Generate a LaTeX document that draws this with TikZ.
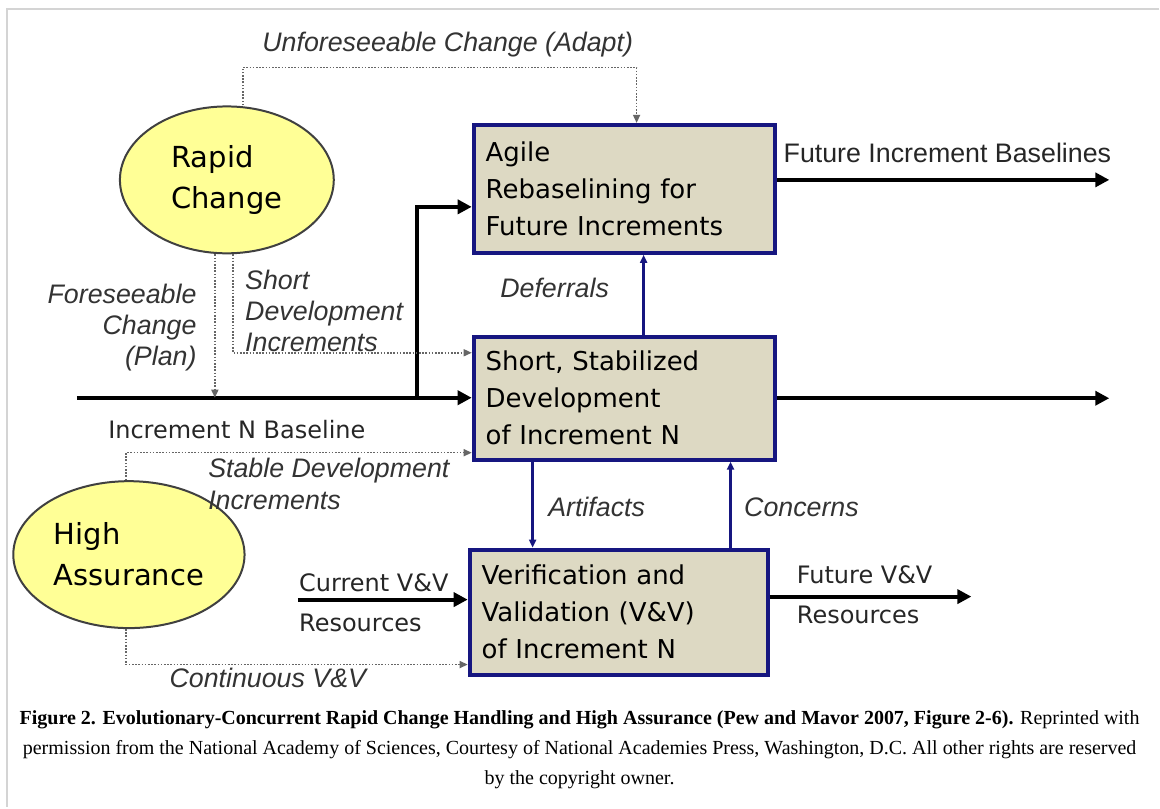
\documentclass[tikz,border=0pt]{standalone}
\usepackage{fontspec}
\usepackage{xcolor}
\usepackage{tikz}
\usetikzlibrary{shapes.geometric, arrows.meta, positioning}
\setmainfont{Liberation Sans}
\newfontfamily\boxfont{DejaVu Sans}
\newfontfamily\capfont{Liberation Serif}
\definecolor{boxfill}{RGB}{221,217,195}
\definecolor{boxline}{RGB}{22,22,128}
\definecolor{ovalfill}{RGB}{255,255,150}
\definecolor{framegray}{RGB}{212,212,212}

\begin{document}
\begin{tikzpicture}[
    x=0.5pt, y=-0.5pt,
    box/.style={rectangle, draw=boxline, line width=2pt, fill=boxfill, minimum width=150.5pt, minimum height=64pt, inner xsep=6pt, text width=138.5pt, align=left, font=\boxfont\fontsize{13}{18.5}\selectfont},
    oval/.style={ellipse, draw=black!75, line width=1pt, fill=ovalfill, minimum width=107pt, minimum height=73.5pt, align=left, font=\boxfont\fontsize{14.5}{20.5}\selectfont},
    arrow/.style={-{Triangle[length=7pt,width=7pt]}, line width=2pt},
    dotarrow/.style={-{Triangle[length=4pt,width=3.5pt]}, draw=black!60, line width=0.75pt, dash pattern=on 0.8pt off 0.8pt},
    bluearrow/.style={-{Triangle[length=4pt,width=3.5pt]}, draw=boxline, line width=1.2pt},
    lbl/.style={font=\fontsize{13.4}{15.5}\selectfont\itshape, text=black!80, inner sep=0pt},
    uplbl/.style={font=\fontsize{13.4}{15.5}\selectfont, text=black!85, inner sep=0pt},
    plainlbl/.style={font=\boxfont\fontsize{12}{14}\selectfont, text=black!85, inner sep=0pt},
    capnode/.style={font=\capfont\fontsize{10}{15}\selectfont, align=center, inner sep=0pt}
]
    % Page and frame
    \fill[white] (0,0) rectangle (1160,808);
    \draw[framegray, line width=0.75pt] (1160,9) -- (7,9) -- (7,808);

    % Nodes
    \node[oval] (rapid) at (227,180) {Rapid\\Change};
    \node[oval] (high) at (129,555) {High\\Assurance};
    \node[box] (agile) at (624.5,189) {Agile\\Rebaselining for\\Future Increments};
    \node[box, minimum height=61.5pt, below=40pt of agile] (short) {Short, Stabilized\\Development\\of Increment N};
    \node[box, minimum height=62.5pt, minimum width=149pt, text width=137pt, below=43pt of short, xshift=-2.75pt] (vv) {Verification and\\Validation (V\&V)\\of Increment N};

    % Free ends
    \coordinate (base) at (77,398);
    \coordinate (split) at (417,398);
    \coordinate (fib) at (1110,180);
    \coordinate (sout) at (1110,398);
    \coordinate (cur) at (298,600);
    \coordinate (fvv) at (972,597);

    % Labels
    \node[lbl] (unf) at (448,45) {Unforeseeable Change (Adapt)};
    \node[uplbl] (fiblbl) at (948,153) {Future Increment Baselines};
    \node[lbl, align=right, anchor=east] (fore) at (197,328) {Foreseeable\\Change\\(Plan)};
    \node[lbl, align=left, anchor=west] (sdi) at (245,311) {Short\\Development\\Increments};
    \node[lbl] (defer) at (555,288) {Deferrals};
    \node[plainlbl] (incn) at (237,430) {Increment N Baseline};
    \node[lbl, align=left, anchor=west, font=\fontsize{13.4}{16}\selectfont\itshape] (stable) at (208,484) {Stable Development\\Increments};
    \node[lbl] (art) at (597,507) {Artifacts};
    \node[lbl] (conc) at (802,508) {Concerns};
    \node[plainlbl, anchor=west] (curtop) at (299,583) {Current V\&V};
    \node[plainlbl, anchor=west] (curbot) at (299,623) {Resources};
    \node[plainlbl, anchor=west] (futtop) at (797,575) {Future V\&V};
    \node[plainlbl, anchor=west] (futbot) at (797,615) {Resources};
    \node[lbl] (cont) at (268,678) {Continuous V\&V};

    % Caption
    \node[capnode] (cap) at (580,750) {\textbf{Figure 2. Evolutionary-Concurrent Rapid Change Handling and High Assurance (Pew and Mavor 2007, Figure 2-6).} Reprinted with\\permission from the National Academy of Sciences, Courtesy of National Academies Press, Washington, D.C. All other rights are reserved\\by the copyright owner.};

    % Arrows
    \draw[arrow] (base) -- (base -| short.west);
    \draw[arrow] (split) |- ([yshift=-9pt]agile.west);
    \draw[arrow] (short.east) -- (short.east -| sout);
    \draw[arrow] (agile.east |- fib) -- (fib);
    \draw[arrow] (cur) -- (cur -| vv.west);
    \draw[arrow] (vv.east |- fvv) -- (fvv);

    \draw[dotarrow] ([xshift=8pt]rapid.north) -- ++(0,-38) -| ([xshift=6.25pt]agile.north);
    \draw[dotarrow] ([xshift=-6pt]rapid.south) -- ([xshift=-6pt]rapid.south |- base);
    \draw[dotarrow] ([xshift=3pt]rapid.south) |- ([yshift=22.75pt]short.west);
    \draw[dotarrow] ([xshift=-1.5pt]high.north) |- ([yshift=-27.25pt]short.west);
    \draw[dotarrow] ([xshift=-1.5pt]high.south) |- ([yshift=-26.25pt]vv.west);

    \draw[bluearrow] ([xshift=9.75pt]short.north) -- ([xshift=9.75pt]agile.south);
    \draw[bluearrow] ([xshift=-45.75pt]short.south) -- ([xshift=-45.75pt]short.south |- vv.north);
    \draw[bluearrow] ([xshift=56pt]vv.north) -- ([xshift=56pt]vv.north |- short.south);
\end{tikzpicture}
\end{document}
